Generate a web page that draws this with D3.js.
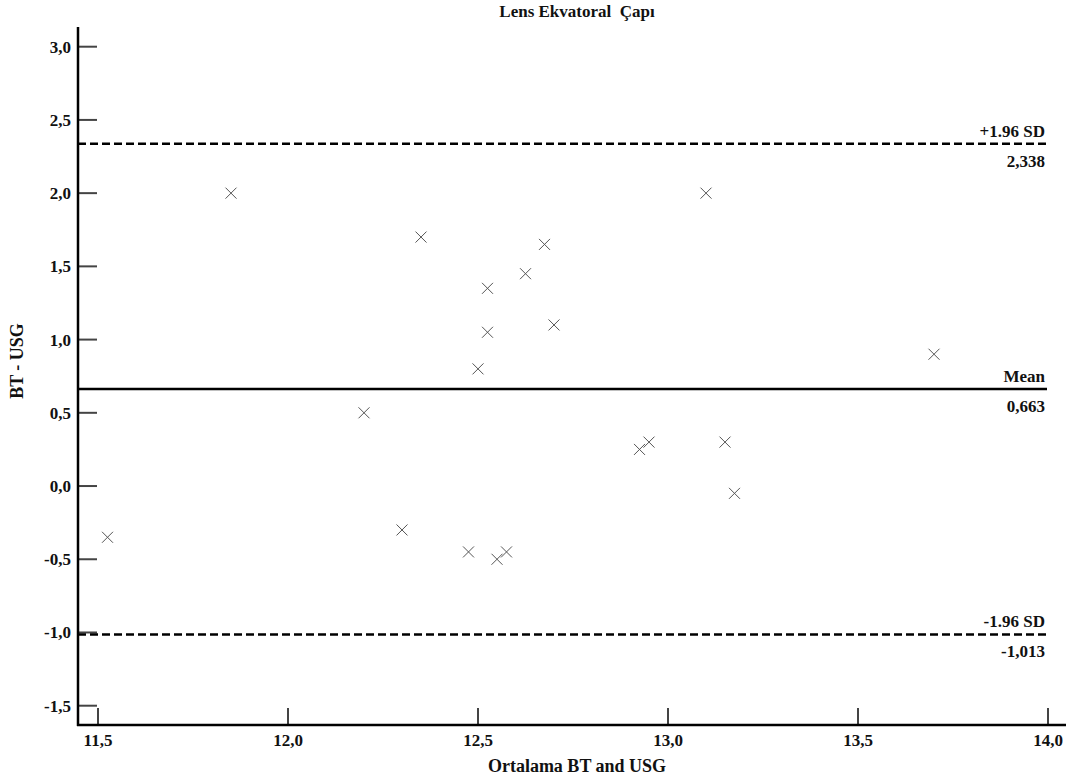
<!DOCTYPE html>
<html>
<head>
<meta charset="utf-8">
<script src="https://cdn.jsdelivr.net/npm/d3@7"></script>
<style>
  body { margin: 0; background: #fff; }
  svg text { font-family: "Liberation Serif", "Times New Roman", serif; font-weight: bold; fill: #111; white-space: pre; }
</style>
</head>
<body>
<div id="chart"></div>
<script>
// Bland-Altman data: mean of BT and USG (x) vs. difference (y)
var avgValues = [11.525, 11.85, 12.2, 12.3, 12.35, 12.475, 12.5, 12.525, 12.525, 12.55,
                 12.575, 12.625, 12.675, 12.7, 12.925, 12.95, 13.1, 13.15, 13.175, 13.7];
var diffValues = [-0.35, 2.0, 0.5, -0.3, 1.7, -0.45, 0.8, 1.35, 1.05, -0.5,
                  -0.45, 1.45, 1.65, 1.1, 0.25, 0.3, 2.0, 0.3, -0.05, 0.9];
var xTicks = [11.5, 12.0, 12.5, 13.0, 13.5, 14.0];
var yTicks = [-1.5, -1.0, -0.5, 0.0, 0.5, 1.0, 1.5, 2.0, 2.5, 3.0];
var refLines = [
    { value: 2.338, name: '+1.96 SD', label: '2,338', dashed: true },
    { value: 0.663, name: 'Mean', label: '0,663', dashed: false },
    { value: -1.013, name: '-1.96 SD', label: '-1,013', dashed: true }
];

var width = 1071,
    height = 782;

var x = d3.scaleLinear().domain([11.5, 14.0]).range([98, 1048]);
var y = d3.scaleLinear().domain([-1.5, 3.0]).range([705.7, 46.7]);

var axisX = 78, axisY = 725;
var fmt = function (d) { return d3.format('.1f')(d).replace('.', ',').replace('−', '-'); };

var svg = d3.select('#chart').append('svg')
    .attr('width', width)
    .attr('height', height);

// ticks (pointing into the plot)
svg.append('g').selectAll('line')
    .data(yTicks).enter().append('line')
    .attr('x1', axisX).attr('x2', axisX + 19)
    .attr('y1', function (d) { return y(d); })
    .attr('y2', function (d) { return y(d); })
    .attr('stroke', '#444').attr('stroke-width', 2);

svg.append('g').selectAll('line')
    .data(xTicks).enter().append('line')
    .attr('x1', function (d) { return x(d); })
    .attr('x2', function (d) { return x(d); })
    .attr('y1', axisY).attr('y2', axisY - 17)
    .attr('stroke', '#444').attr('stroke-width', 2);

// tick labels
svg.append('g').selectAll('text')
    .data(yTicks).enter().append('text')
    .attr('x', axisX - 7)
    .attr('y', function (d) { return y(d) + 6; })
    .attr('text-anchor', 'end')
    .style('font-size', '17px')
    .text(fmt);

svg.append('g').selectAll('text')
    .data(xTicks).enter().append('text')
    .attr('x', function (d) { return x(d); })
    .attr('y', 746)
    .attr('text-anchor', 'middle')
    .style('font-size', '17px')
    .text(fmt);

// axis lines
svg.append('line')
    .attr('x1', axisX).attr('x2', axisX)
    .attr('y1', 27).attr('y2', axisY + 1)
    .attr('stroke', '#000').attr('stroke-width', 2.5);
svg.append('line')
    .attr('x1', axisX - 1).attr('x2', 1066)
    .attr('y1', axisY).attr('y2', axisY)
    .attr('stroke', '#000').attr('stroke-width', 2.5);

// reference lines
var refs = svg.append('g').selectAll('g')
    .data(refLines).enter().append('g');

refs.append('line')
    .attr('x1', axisX).attr('x2', 1047)
    .attr('y1', function (d) { return y(d.value); })
    .attr('y2', function (d) { return y(d.value); })
    .attr('stroke', '#000').attr('stroke-width', 2.5)
    .attr('stroke-dasharray', function (d) { return d.dashed ? '8,4' : null; });

refs.append('text')
    .attr('x', 1045)
    .attr('y', function (d) { return y(d.value) - 7; })
    .attr('text-anchor', 'end')
    .style('font-size', '17px')
    .text(function (d) { return d.name; });

refs.append('text')
    .attr('x', 1045)
    .attr('y', function (d) { return y(d.value) + 23; })
    .attr('text-anchor', 'end')
    .style('font-size', '17px')
    .text(function (d) { return d.label; });

// points as crosses
var pts = d3.range(avgValues.length).map(function (i) { return [avgValues[i], diffValues[i]]; });
var s = 5.5;
svg.append('g').selectAll('path')
    .data(pts).enter().append('path')
    .attr('d', function (d) {
        var cx = x(d[0]), cy = y(d[1]);
        return 'M' + (cx - s) + ',' + (cy - s) + 'L' + (cx + s) + ',' + (cy + s) +
               'M' + (cx - s) + ',' + (cy + s) + 'L' + (cx + s) + ',' + (cy - s);
    })
    .attr('stroke', '#555').attr('stroke-width', 1).attr('fill', 'none');

// titles
svg.append('text')
    .attr('x', 577).attr('y', 17)
    .attr('text-anchor', 'middle')
    .style('font-size', '17px')
    .text('Lens Ekvatoral  Çapı');

svg.append('text')
    .attr('x', 577).attr('y', 772)
    .attr('text-anchor', 'middle')
    .style('font-size', '18px')
    .text('Ortalama BT and USG');

svg.append('text')
    .attr('transform', 'translate(23,361) rotate(-90)')
    .attr('text-anchor', 'middle')
    .style('font-size', '18px')
    .text('BT - USG');
</script>
</body>
</html>
